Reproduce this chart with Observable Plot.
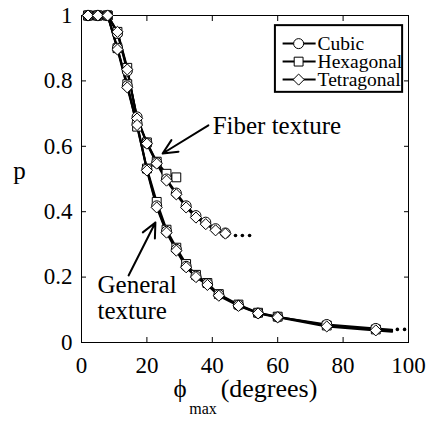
<!DOCTYPE html>
<html><head><meta charset="utf-8">
<script src="https://cdn.jsdelivr.net/npm/d3@7"></script>
<script src="https://cdn.jsdelivr.net/npm/@observablehq/plot@0.6"></script>
<style>
body{margin:0;background:#fff}
svg text { font-family: "Liberation Serif", "Tinos", "DejaVu Serif", serif !important; }
</style>
</head><body><div id="chart"></div>
<script>
// ---- data ----
const seriesNames = ["Cubic", "Hexagonal", "Tetragonal"];
const seriesSymbols = ["circle", "square", "diamond2"];

// Fiber texture curves (phi_max in degrees, p)
const fiberX = [2, 5, 8, 11, 14, 17, 20, 23, 26, 29, 32, 35, 38, 41, 44];
const fiberCubic = [1, 1, 1, 0.945, 0.83, 0.69, 0.61, 0.55, 0.50, 0.457, 0.418, 0.388, 0.368, 0.348, 0.335];
const fiberHexX = [2, 5, 8, 11, 14, 17, 20, 23, 26, 29];
const fiberHex = [1, 1, 1, 0.95, 0.84, 0.68, 0.612, 0.553, 0.516, 0.505];
const fiberTetra = [1, 1, 1, 0.95, 0.835, 0.685, 0.608, 0.547, 0.495, 0.453, 0.413, 0.382, 0.362, 0.343, 0.333];

// General texture curves (last x is an unmarked line end)
const generalX = [2, 5, 8, 11, 14, 17, 20, 23, 26, 29, 32, 35, 38.5, 42, 48, 54, 60, 75, 90, 95];
const generalCubic = [1, 1, 1, 0.9, 0.785, 0.67, 0.53, 0.418, 0.34, 0.285, 0.233, 0.203, 0.18, 0.146, 0.114, 0.09, 0.078, 0.055, 0.043, 0.039];
const generalHex = [1, 1, 1, 0.9, 0.79, 0.66, 0.532, 0.43, 0.345, 0.29, 0.24, 0.207, 0.182, 0.148, 0.116, 0.091, 0.079, 0.052, 0.04, 0.036];
const generalTetra = [1, 1, 1, 0.896, 0.78, 0.665, 0.526, 0.413, 0.336, 0.281, 0.23, 0.2, 0.176, 0.143, 0.112, 0.089, 0.077, 0.049, 0.037, 0.033];

// "..." continuation dots
const fiberDotsX = [47.1, 49.2, 51.4];
const fiberDotsY = [0.327, 0.327, 0.327];
const generalDotsX = [96.6, 98.8];
const generalDotsY = [0.04, 0.04];

// annotations
const annotationText = ["Fiber texture", "General\ntexture"];
const annotationX = [40.1, 4.9];
const annotationY = [0.663, 0.137];
const arrowX1 = [38.8, 14.4], arrowY1 = [0.664, 0.205];
const arrowX2 = [24.8, 22.6], arrowY2 = [0.578, 0.367];

// axes
const xTicks = [0, 20, 40, 60, 80, 100];
const xTickLabels = ["0", "20", "40", "60", "80", "100"];
const yTicks = [0, 0.2, 0.4, 0.6, 0.8, 1];
const yTickLabels = ["0", "0.2", "0.4", "0.6", "0.8", "1"];
const xInnerTicks = [20, 40, 60, 80];
const yInnerTicks = [0.2, 0.4, 0.6, 0.8];

// legend placement (data coordinates)
const legendBoxX = [59.3, 98.2], legendBoxY = [0.765, 0.969];
const legendRowY = [0.914, 0.859, 0.804];
const legendLineX = [61.5, 71.6], legendMarkX = 66.4, legendTextX = 72.2;

// ---- build tables ----
const rows = (xs, ys, s) => xs.map((x, i) => ({x, y: ys[i], series: s}));
const fiber = [
  rows(fiberX, fiberCubic, "Cubic"),
  rows(fiberHexX, fiberHex, "Hexagonal"),
  rows(fiberX, fiberTetra, "Tetragonal")
];
const general = [
  rows(generalX, generalCubic, "Cubic"),
  rows(generalX, generalHex, "Hexagonal"),
  rows(generalX, generalTetra, "Tetragonal")
].map(r => r.map((d, i) => ({...d, marked: i < r.length - 1})));

const font = "Liberation Serif";

const lineMarks = [];
const dotMarks = [];
const order = [1, 0, 2]; // squares, circles, diamonds on top
for (const k of order) {
  lineMarks.push(Plot.line(fiber[k], {x: "x", y: "y", stroke: "black", strokeWidth: 2}));
  lineMarks.push(Plot.line(general[k], {x: "x", y: "y", stroke: "black", strokeWidth: 2}));
}
for (const k of order) {
  const sym = seriesSymbols[k];
  dotMarks.push(Plot.dot(fiber[k], {x: "x", y: "y", symbol: sym, r: 5, fill: "white", stroke: "black", strokeWidth: 1}));
  dotMarks.push(Plot.dot(general[k].filter(d => d.marked), {x: "x", y: "y", symbol: sym, r: 5, fill: "white", stroke: "black", strokeWidth: 1}));
}

const legend = seriesNames.map((name, i) => ({name, symbol: seriesSymbols[i], y: legendRowY[i]}));
const annotations = annotationText.map((t, i) => ({t, x: annotationX[i], y: annotationY[i]}));
const arrows = arrowX1.map((x1, i) => ({x1, y1: arrowY1[i], x2: arrowX2[i], y2: arrowY2[i]}));
const ellipsis = [...fiberDotsX.map((x, i) => ({x, y: fiberDotsY[i]})), ...generalDotsX.map((x, i) => ({x, y: generalDotsY[i]}))];

const chart = Plot.plot({
  width: 428,
  height: 422,
  marginLeft: 81,
  marginRight: 20,
  marginTop: 15,
  marginBottom: 80,
  x: {domain: [0, 100]},
  y: {domain: [0, 1]},
  style: {fontFamily: font, fontSize: "23px", background: "white", color: "black", overflow: "visible"},
  marks: [
    Plot.frame({stroke: "black", strokeWidth: 1}),
    // inward ticks on all four sides
    Plot.axisX(xInnerTicks, {anchor: "bottom", tickSize: 5, dy: -5, tickFormat: () => "", label: null}),
    Plot.axisX(xInnerTicks, {anchor: "top", tickSize: 5, dy: 5, tickFormat: () => "", label: null}),
    Plot.axisY(yInnerTicks, {anchor: "left", tickSize: 5, dx: 5, tickFormat: () => "", label: null}),
    Plot.axisY(yInnerTicks, {anchor: "right", tickSize: 5, dx: -5, tickFormat: () => "", label: null}),
    // tick labels
    Plot.axisX(xTicks, {anchor: "bottom", tickSize: 0, tickPadding: 14, tickFormat: (d, i) => xTickLabels[i], label: null, fontSize: 23, fontFamily: font}),
    Plot.axisY(yTicks, {anchor: "left", tickSize: 0, tickPadding: 9, tickFormat: (d, i) => yTickLabels[i], label: null, fontSize: 23, fontFamily: font}),
    // axis titles
    Plot.text(["p"], {frameAnchor: "left", dx: -62, dy: -8, fontSize: 25, textAnchor: "middle", fontFamily: font}),
    Plot.text(["ϕ"], {frameAnchor: "bottom", dx: -65, dy: 54, fontSize: 25, textAnchor: "middle", fontFamily: font}),
    Plot.text(["max"], {frameAnchor: "bottom", dx: -42, dy: 71, fontSize: 16, textAnchor: "middle", fontFamily: font}),
    Plot.text(["(degrees)"], {frameAnchor: "bottom", dx: 24, dy: 54, fontSize: 26, textAnchor: "middle", fontFamily: font}),
    // curves
    ...lineMarks,
    ...dotMarks,
    Plot.dot(ellipsis, {x: "x", y: "y", r: 1.8, fill: "black"}),
    // annotations
    Plot.arrow(arrows, {x1: "x1", y1: "y1", x2: "x2", y2: "y2", stroke: "black", strokeWidth: 2, headLength: 12, headAngle: 50}),
    Plot.text(annotations, {x: "x", y: "y", text: "t", textAnchor: "start", fontSize: 25, lineHeight: 1.05, fontFamily: font}),
    // legend
    Plot.rect([0], {x1: legendBoxX[0], x2: legendBoxX[1], y1: legendBoxY[0], y2: legendBoxY[1], fill: "white", stroke: "black", strokeWidth: 2}),
    Plot.link(legend, {x1: legendLineX[0], x2: legendLineX[1], y1: "y", y2: "y", stroke: "black", strokeWidth: 2}),
    Plot.dot(legend, {x: legendMarkX, y: "y", symbol: "symbol", r: 5, fill: "white", stroke: "black", strokeWidth: 1}),
    Plot.text(legend, {x: legendTextX, y: "y", text: "name", textAnchor: "start", fontSize: 19.5, fontFamily: font})
  ]
});
document.getElementById("chart").appendChild(chart);
</script>
</body></html>
